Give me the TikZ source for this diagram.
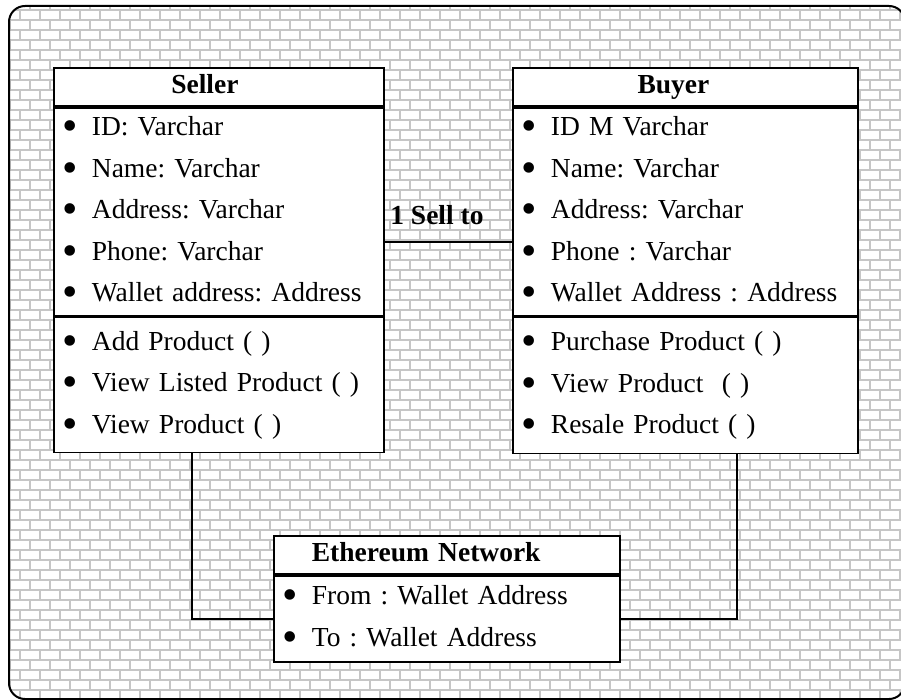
\documentclass[tikz,border=0pt]{standalone}
\usepackage{fontspec}
\setmainfont{Liberation Serif}
\usepackage{graphicx}
\usepackage{tikz}
\usetikzlibrary{positioning}

\newcommand{\itm}{\makebox[29pt][l]{\raisebox{-5pt}{\scalebox{1.6}{\textbullet}}}}

\begin{document}
\frenchspacing
\begin{tikzpicture}[
		x=1pt, y=-1pt,
		font=\fontsize{27.5}{41.5}\selectfont,
		brick/.style={draw=gray!45, line width=1.8pt},
		classname/.style={draw, line width=1.8pt, fill=white, minimum height=38pt, text height=19pt, text depth=6pt, inner sep=0pt, font=\fontsize{27.5}{41.5}\selectfont\bfseries},
		items/.style={draw, line width=1.8pt, fill=white, align=left, inner ysep=0pt, inner xsep=9pt},
		link/.style={line width=2pt}
		]
		\useasboundingbox (0,0) rectangle (901,700);
		\begin{scope}
			\clip[rounded corners=16pt] (9,6) rectangle (905,699);
			\fill[white] (0,0) rectangle (901,700);
			\foreach \r in {0,10,...,700}
				\draw[brick] (0,\r) -- (901,\r);
			\foreach \c in {0,20,...,900}
				\draw[brick, dash pattern=on 10pt off 10pt, dash phase=10pt] (\c,0) -- (\c,700);
			\foreach \c in {10,30,...,890}
				\draw[brick, dash pattern=on 10pt off 10pt] (\c,0) -- (\c,700);
		\end{scope}
		\draw[line width=2pt, rounded corners=16pt] (9,6) rectangle (905,699);
		
		\node[classname, minimum width=330pt, anchor=north west] (seller) at (53,67) {Seller\hspace*{28pt}};
		\node[items, text width=312pt, minimum height=208pt, below=0pt of seller] (sattr) {\itm ID: Varchar\\ \itm Name: Varchar\\ \itm Address: Varchar\\ \itm Phone: Varchar\\ \itm Wallet address: Address};
		\node[items, text width=312pt, minimum height=135pt, below=0pt of sattr] (smeth) {\itm Add Product ( )\\ \itm View Listed Product ( )\\ \itm View Product ( )};
		
		\node[classname, minimum width=345pt, anchor=north west] (buyer) at (512,67) {Buyer\hspace*{24pt}};
		\node[items, text width=327pt, minimum height=208pt, below=0pt of buyer] (battr) {\itm ID M Varchar\\ \itm Name: Varchar\\ \itm Address: Varchar\\ \itm Phone : Varchar\\ \itm Wallet Address : Address};
		\node[items, text width=327pt, minimum height=136pt, below=0pt of battr] (bmeth) {\itm Purchase Product ( )\\ \itm View Product~~( )\\ \itm Resale Product ( )};
		
		\node[classname, minimum width=346pt, text width=328pt, align=left, anchor=north west] (eth) at (273,535) {\hspace*{29pt}Ethereum Network};
		\node[items, text width=328pt, minimum height=86pt, below=0pt of eth] (eattr) {\itm From : Wallet Address\\ \itm To : Wallet Address};
		
		\draw[link] ([yshift=-30pt]sattr.east) -- node[above=14pt, pos=0.41, inner sep=2pt, font=\fontsize{27.5}{41.5}\selectfont\bfseries] (sell) {1 Sell to} ([yshift=-30pt]battr.west);
		\draw[link] ([xshift=-27pt]smeth.south) |- (eattr.west);
		\draw[link] ([xshift=52pt]bmeth.south) |- (eattr.east);
	\end{tikzpicture}
\end{document}
